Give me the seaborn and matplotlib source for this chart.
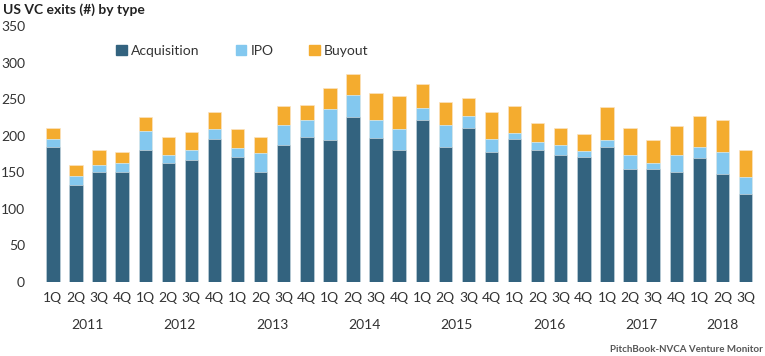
import numpy as np
import pandas as pd
import matplotlib
matplotlib.use('Agg')
import matplotlib.pyplot as plt
import matplotlib.patches as mpatches
import seaborn as sns

# data
years = ['2011', '2012', '2013', '2014', '2015', '2016', '2017', '2018']
quarters = ['1Q', '2Q', '3Q', '4Q']
acquisition = [184, 133, 150, 150, 181, 163, 167, 195, 171, 151, 187, 198, 194, 226, 197, 181,
               222, 184, 210, 178, 196, 181, 173, 171, 185, 154, 154, 150, 170, 148, 120]
ipo = [11, 12, 10, 13, 25, 11, 13, 14, 12, 25, 28, 23, 42, 29, 25, 28,
       16, 31, 17, 17, 8, 11, 14, 8, 9, 19, 9, 23, 14, 30, 23]
buyout = [15, 15, 20, 15, 19, 24, 25, 24, 26, 22, 25, 21, 29, 30, 37, 45,
          33, 31, 25, 37, 37, 25, 24, 23, 45, 37, 31, 40, 43, 43, 37]

periods = [(y, q) for y in years for q in quarters][:len(acquisition)]
df = pd.DataFrame({
    'year': [p[0] for p in periods],
    'quarter': [p[1] for p in periods],
    'acquisition': acquisition,
    'ipo': ipo,
    'buyout': buyout,
})
df['period'] = df['year'] + ' ' + df['quarter']
df['acq_ipo'] = df['acquisition'] + df['ipo']
df['total'] = df['acq_ipo'] + df['buyout']

sns.set_theme(style='white')
plt.rcParams['font.family'] = ['Lato', 'DejaVu Sans']

c_acq = '#33637f'
c_ipo = '#83c8ef'
c_buy = '#f4ac2f'
txt = '#333333'

fig = plt.figure(figsize=(7.65, 3.56), dpi=100)
ax = fig.add_axes([39 / 765, 74 / 356, 718 / 765, 256 / 356])

order = df['period'].tolist()
sns.barplot(data=df, x='period', y='total', order=order, color=c_buy, width=0.58,
            saturation=1, edgecolor='#fbe3c0', linewidth=0.5, ax=ax)
sns.barplot(data=df, x='period', y='acq_ipo', order=order, color=c_ipo, width=0.58,
            saturation=1, edgecolor='#d7edf9', linewidth=0.5, ax=ax)
sns.barplot(data=df, x='period', y='acquisition', order=order, color=c_acq, width=0.58,
            saturation=1, edgecolor='#c9d6de', linewidth=0.5, ax=ax)

ax.set_xlim(-0.6, 30.5)
ax.set_ylim(0, 350)
ax.set_yticks(np.arange(0, 351, 50))
ax.set_xticks(range(len(df)))
ax.set_xticklabels(df['quarter'], fontsize=10, color=txt)
ax.tick_params(axis='y', labelsize=10, labelcolor=txt, length=0, pad=10)
ax.tick_params(axis='x', length=0, pad=7)
ax.set_xlabel('')
ax.set_ylabel('')
sns.despine(ax=ax, left=True, bottom=True)

# year labels under each group of quarters
for y in years:
    idx = np.where(df['year'] == y)[0]
    ax.text(idx.mean(), -0.168, y, transform=ax.get_xaxis_transform(),
            ha='center', va='center', fontsize=10, color=txt)

fig.text(3 / 765, 1 - 10 / 356, 'US VC exits (#) by type', fontsize=10,
         fontweight='bold', color='#222222', ha='left', va='center')
fig.text(763 / 765, 1 - 349 / 356, 'PitchBook-NVCA Venture Monitor', fontsize=7,
         fontweight='bold', color='#555555', ha='right', va='center')

handles = [mpatches.Patch(color=c_acq, label='Acquisition'),
           mpatches.Patch(color=c_ipo, label='IPO'),
           mpatches.Patch(color=c_buy, label='Buyout')]
fig.legend(handles=handles, loc='center left', bbox_to_anchor=(104 / 765, 1 - 51 / 356),
           ncol=3, frameon=False, fontsize=10, handlelength=0.75, handleheight=0.75,
           handletextpad=0.3, columnspacing=2.6, labelcolor=txt)

fig.savefig('out.png', dpi=100)
